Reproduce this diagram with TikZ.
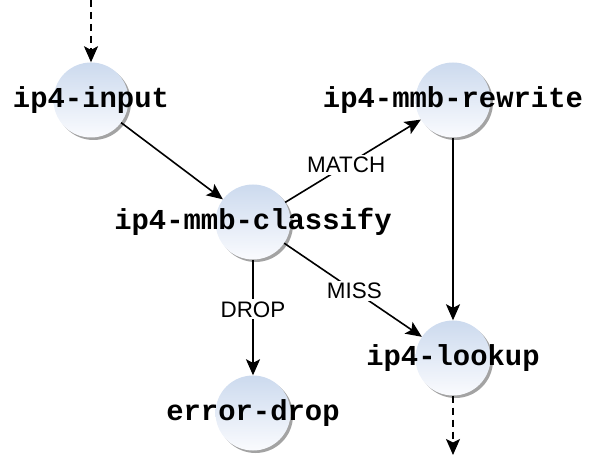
\documentclass[tikz,border=0pt]{standalone}
\usepackage{fontspec}
\setmainfont{Liberation Sans}
\newfontfamily\codefont{Liberation Mono}
\usetikzlibrary{arrows.meta,shadows}
\tikzset{
  blob/.style={circle, minimum size=75bp, inner sep=0pt, draw=none,
    top color={rgb,255:red,204;green,218;blue,238},
    bottom color={rgb,255:red,250;green,251;blue,254},
    drop shadow={shadow xshift=2.5bp, shadow yshift=-2.5bp, fill=black!45, opacity=0.8}},
  nodetext/.style={font=\codefont\bfseries\fontsize{29}{31}\selectfont, inner sep=0pt},
  edgelabel/.style={font=\fontsize{22.5}{25}\selectfont, fill=white, inner sep=2bp},
  conn/.style={line width=1.6bp, -{Stealth[length=16bp,width=14bp,inset=3.5bp]}},
  dconn/.style={conn, dash pattern=on 7bp off 5bp}
}
\begin{document}
\begin{tikzpicture}[x=1bp,y=-1bp]
\useasboundingbox (0,0) rectangle (592,455);
\node[blob] (in) at (91,100) {};
\node[blob] (cl) at (253,222) {};
\node[blob] (rw) at (453,100) {};
\node[blob] (lk) at (453,358) {};
\node[blob] (ed) at (253,413) {};
\node[nodetext] (tin) at (in.center) {ip4-input};
\node[nodetext] (tcl) at (cl.center) {ip4-mmb-classify};
\node[nodetext] (trw) at (rw.center) {ip4-mmb-rewrite};
\node[nodetext] (tlk) at (lk.center) {ip4-lookup};
\node[nodetext] (ted) at (ed.center) {error-drop};
\coordinate (top) at (91,0);
\coordinate (bot) at (453,455);
\draw[dconn] (top) -- (in);
\draw[conn] (in) -- (cl);
\draw[conn] (cl) -- node[edgelabel, pos=0.45] {MATCH} (rw);
\draw[conn] (cl) -- node[edgelabel, pos=0.51] {MISS} (lk);
\draw[conn] (cl) -- node[edgelabel, pos=0.43] {DROP} (ed);
\draw[conn] (rw) -- (lk);
\draw[dconn] (lk) -- (bot);
\end{tikzpicture}
\end{document}
